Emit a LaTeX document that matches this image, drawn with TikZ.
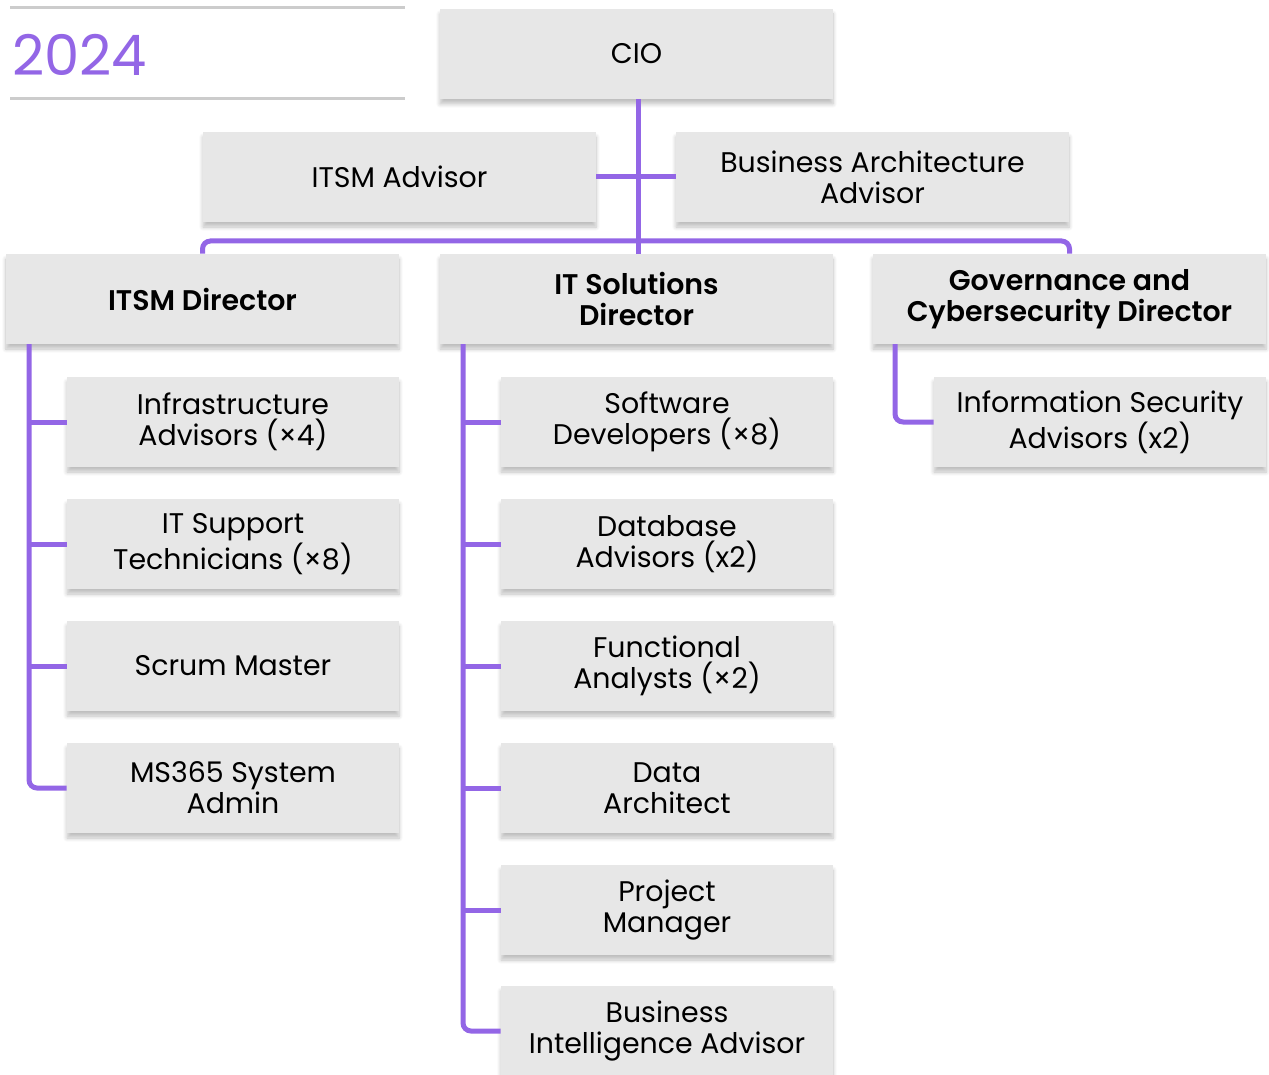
\documentclass[tikz,border=0pt]{standalone}
\usepackage{fontspec}
\setmainfont{Poppins}[BoldFont={* SemiBold}]
\usetikzlibrary{shadows.blur}
\definecolor{orgpurple}{HTML}{9366E6}
\definecolor{boxgray}{HTML}{E7E7E7}
\tikzset{
  post/.style={fill=boxgray, minimum width=196.5pt, minimum height=45pt, inner sep=2pt,
    align=center, font=\fontsize{14.2}{15.5}\selectfont,
    blur shadow={shadow xshift=0pt, shadow yshift=-2.5pt, shadow blur radius=2pt, shadow blur steps=6, shadow opacity=25}},
  staff/.style={post, minimum width=166pt},
  head/.style={post, font=\fontsize{14.2}{15.5}\selectfont\bfseries},
  link/.style={draw=orgpurple, line width=2.5pt},
}
\begin{document}
\begin{tikzpicture}[x=0.5pt, y=-0.5pt]
  \useasboundingbox (0,0) rectangle (1269,1075);

  % 1. Year banner
  \fill[white] (10,8) rectangle (405,99);
  \draw[black!20, line width=1.5pt] (10,8) -- (405,8);
  \draw[black!20, line width=1.5pt] (10,99) -- (405,99);
  \node[anchor=base west, inner sep=0pt, text=orgpurple, font=\fontsize{28}{28}\selectfont] (year) at (12,76) {2024};

  % 2. Top level
  \node[post] (cio) at (636.5,54) {CIO};
  \node[post] (itsmadv) at (399.5,177) {ITSM Advisor};
  \node[post] (bizadv) at (872.5,177) {Business Architecture\\Advisor};

  % 3. Directors
  \node[head] (itsmdir) at (202.5,299) {ITSM Director};
  \node[head] (soldir) at (636.5,299) {IT Solutions\\Director};
  \node[head] (govdir) at (1069.5,299) {Governance and\\Cybersecurity Director};

  % 4. ITSM team
  \node[staff] (infra) at (233,422) {Infrastructure\\Advisors (×4)};
  \node[staff] (support) at (233,544) {IT Support\\Technicians (×8)};
  \node[staff] (scrum) at (233,666) {Scrum Master};
  \node[staff] (msadmin) at (233,788) {MS365 System\\Admin};

  % 5. IT Solutions team
  \node[staff] (softdev) at (667,422) {Software\\Developers (×8)};
  \node[staff] (dbadv) at (667,544) {Database\\Advisors (x2)};
  \node[staff] (funcan) at (667,666) {Functional\\Analysts (×2)};
  \node[staff] (dataarch) at (667,788) {Data\\Architect};
  \node[staff] (projman) at (667,910) {Project\\Manager};
  \node[staff] (biadv) at (667,1031) {Business\\Intelligence Advisor};

  % 6. Governance team
  \node[staff] (infosec) at (1100,422) {Information Security\\Advisors (x2)};

  % 7. Connectors
  \coordinate (bus) at (638,241);
  \coordinate (ltop) at (29,344);
  \coordinate (mtop) at (463,344);
  \coordinate (rtop) at (895,344);
  \draw[link] (cio.south -| bus) -- (soldir.north -| bus);
  \draw[link] (itsmadv.east) -- (bizadv.west);
  \draw[link, rounded corners=4pt] (itsmdir.north) |- (bus) -| (govdir.north);
  \draw[link, rounded corners=4pt] (ltop) |- (msadmin.west);
  \foreach \n in {infra, support, scrum}
    \draw[link] (\n.west) -- (\n.west -| ltop);
  \draw[link, rounded corners=4pt] (mtop) |- (biadv.west);
  \foreach \n in {softdev, dbadv, funcan, dataarch, projman}
    \draw[link] (\n.west) -- (\n.west -| mtop);
  \draw[link, rounded corners=4pt] (rtop) |- (infosec.west);
\end{tikzpicture}
\end{document}
